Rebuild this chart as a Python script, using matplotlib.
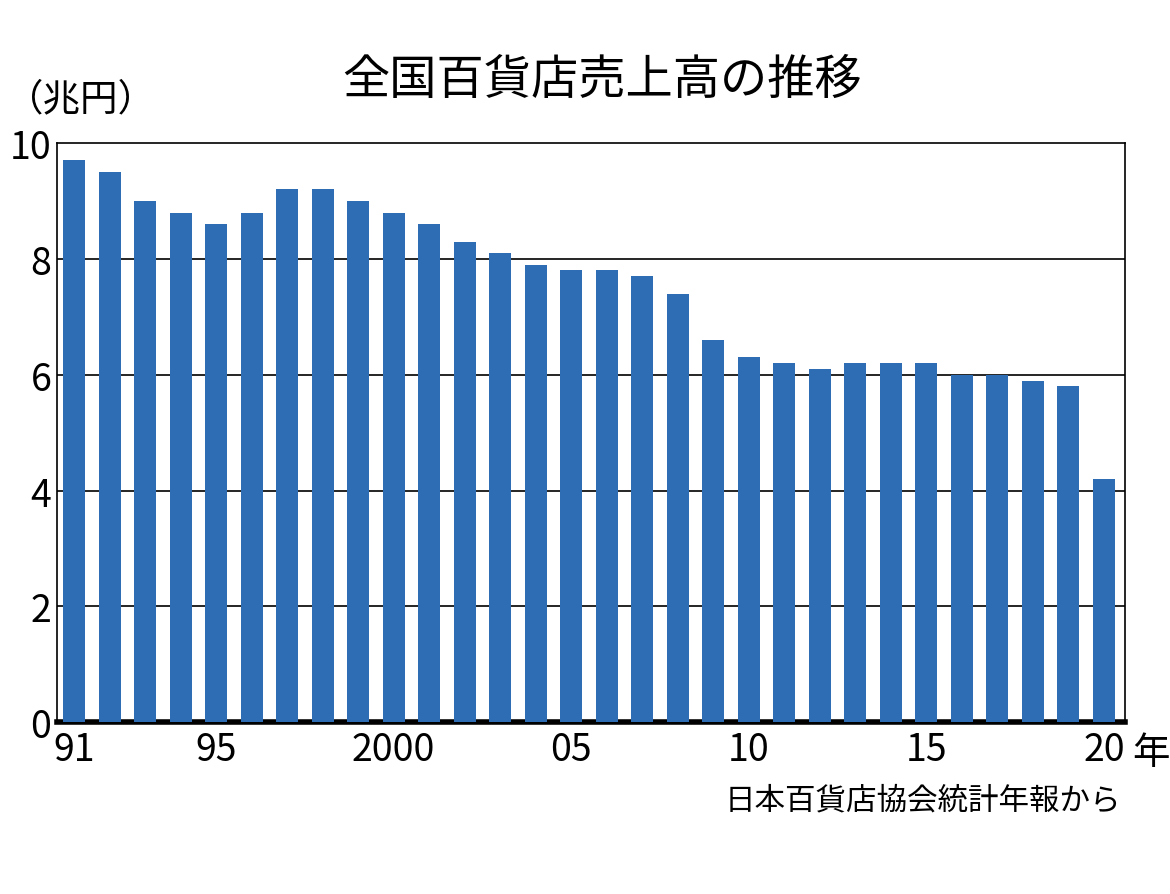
import matplotlib
matplotlib.use("Agg")
import matplotlib.pyplot as plt

plt.rcParams['font.family'] = ['Noto Sans CJK JP', 'DejaVu Sans']

years = list(range(1991, 2021))
sales = [9.7, 9.5, 9.0, 8.8, 8.6, 8.8, 9.2, 9.2, 9.0, 8.8, 8.6, 8.3, 8.1, 7.9, 7.8,
         7.8, 7.7, 7.4, 6.6, 6.3, 6.2, 6.1, 6.2, 6.2, 6.2, 6.0, 6.0, 5.9, 5.8, 4.2]
tick_years = [1991, 1995, 2000, 2005, 2010, 2015, 2020]
tick_labels = ["91", "95", "2000", "05", "10", "15", "20"]

fig = plt.figure(figsize=(11.7, 8.95), dpi=100)
ax = fig.add_axes([0.0487, 0.192, 0.913, 0.647])
x = [y - 1991 for y in years]
ax.bar(x, sales, width=0.62, color='#2e6db4', zorder=3)
for g in [2, 4, 6, 8]:
    ax.axhline(g, color='black', lw=1.2, zorder=1)
ax.set_xlim(-0.48, 29.6)
ax.set_ylim(0, 10)
ax.set_yticks([0, 2, 4, 6, 8, 10])
ax.set_yticklabels(["0", "2", "4", "6", "8", "10"])
ax.set_xticks([t - 1991 for t in tick_years])
ax.set_xticklabels(tick_labels)
ax.tick_params(axis='both', length=0, labelsize=27, pad=6)
ax.tick_params(axis='y', pad=4)
for s in ['top', 'right', 'left']:
    ax.spines[s].set_linewidth(1.2)
ax.spines['bottom'].set_linewidth(4)
fig.text(0.968, 0.158, "年", fontsize=27, ha='left', va='center')
fig.text(0.958, 0.105, "日本百貨店協会統計年報から", fontsize=22, ha='right', va='center')
fig.text(0.515, 0.91, "全国百貨店売上高の推移", fontsize=34, ha='center', va='center')
fig.text(0.005, 0.888, "（兆円）", fontsize=27, ha='left', va='center')
fig.savefig("out.png", dpi=100)
